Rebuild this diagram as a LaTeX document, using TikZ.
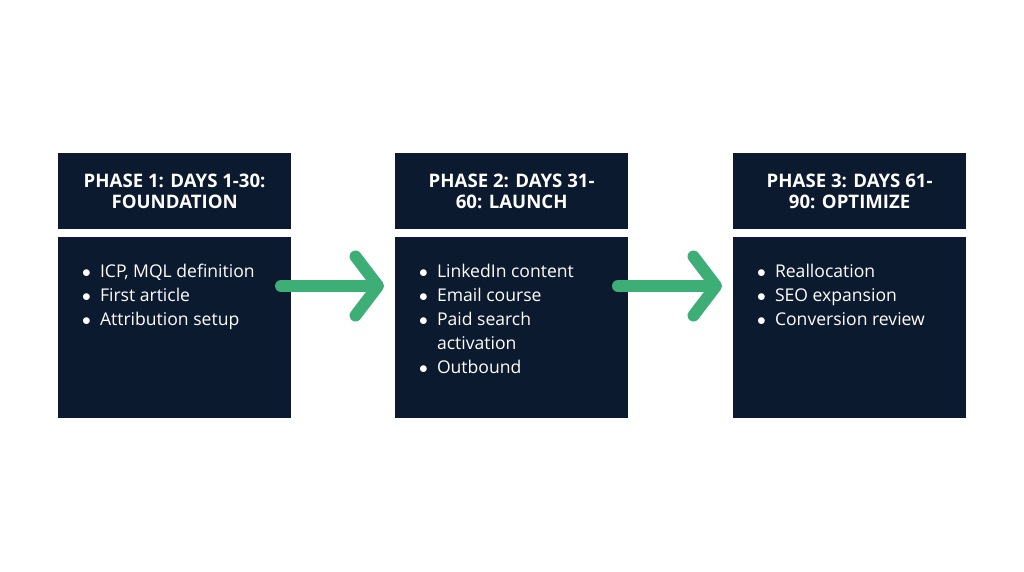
\documentclass[tikz,border=0pt]{standalone}
\usepackage{fontspec}
\setmainfont{Open Sans}
\usetikzlibrary{arrows.meta, positioning}
\definecolor{navy}{HTML}{0B1A2E}
\definecolor{leaf}{HTML}{3DAF76}
\begin{document}
\begin{tikzpicture}[x=0.05cm, y=-0.05cm,
  head/.style={fill=navy, text=white, minimum width=233*0.05cm, minimum height=76*0.05cm,
    inner sep=0pt, align=center, font=\fontsize{26.5}{30}\selectfont\bfseries, anchor=north west},
  body/.style={fill=navy, text=white, minimum width=233*0.05cm, minimum height=181*0.05cm,
    inner sep=0pt, anchor=north west},
  items/.style={text=white, align=left, anchor=north west, inner sep=0pt,
    font=\fontsize{25}{34}\selectfont},
  nextphase/.style={draw=leaf, line width=17pt, line cap=round,
    -{Straight Barb[length=32pt, width=84pt, line cap=round, line join=round]}}]
  % frame
  \useasboundingbox[fill=white] (0,0) rectangle (1024,572);
  % Phase 1
  \node[head] (h1) at (58,153) {PHASE 1: DAYS 1-30:\\FOUNDATION};
  \node[body] (b1) at (58,237) {};
  \node[items] (l1) at (82,264) {$\bullet$\ \ ICP, MQL definition\\$\bullet$\ \ First article\\$\bullet$\ \ Attribution setup};
  % Phase 2
  \node[head] (h2) at (395,153) {PHASE 2: DAYS 31-\\60: LAUNCH};
  \node[body] (b2) at (395,237) {};
  \node[items] (l2) at (419,264) {$\bullet$\ \ LinkedIn content\\$\bullet$\ \ Email course\\$\bullet$\ \ Paid search\\\phantom{$\bullet$\ \ }activation\\$\bullet$\ \ Outbound};
  % Phase 3
  \node[head] (h3) at (733,153) {PHASE 3: DAYS 61-\\90: OPTIMIZE};
  \node[body] (b3) at (733,237) {};
  \node[items] (l3) at (757,264) {$\bullet$\ \ Reallocation\\$\bullet$\ \ SEO expansion\\$\bullet$\ \ Conversion review};
  % Arrows
  \coordinate (a1) at (281,286);
  \coordinate (a2) at (384,286);
  \coordinate (a3) at (618,286);
  \coordinate (a4) at (722,286);
  \draw[nextphase] (a1) -- (a2);
  \draw[nextphase] (a3) -- (a4);
\end{tikzpicture}
\end{document}
